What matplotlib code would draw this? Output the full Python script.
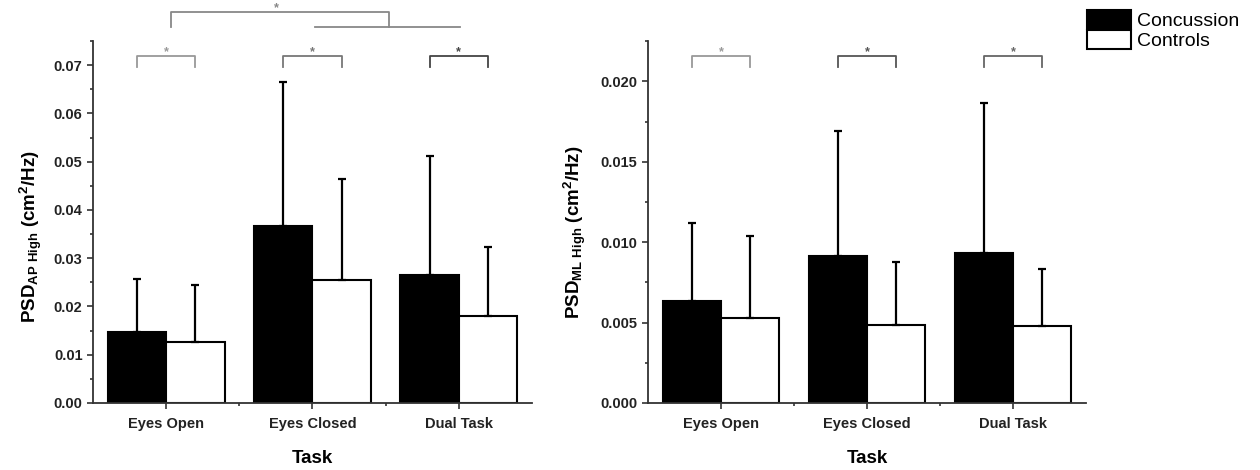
import matplotlib
matplotlib.use("Agg")
import matplotlib.pyplot as plt
from matplotlib.ticker import MultipleLocator, FormatStrFormatter
from matplotlib.patches import Patch
import numpy as np

plt.rcParams["font.family"] = ["Liberation Sans", "DejaVu Sans"]
plt.rcParams["mathtext.fontset"] = "custom"
plt.rcParams["mathtext.rm"] = "Liberation Sans"
plt.rcParams["mathtext.bf"] = "Liberation Sans:bold"

tasks = ["Eyes Open", "Eyes Closed", "Dual Task"]
groups = ["Concussion", "Controls"]

# AP high-frequency PSD (mean, SD)
ap_conc = [0.0147, 0.0366, 0.0265]
ap_conc_sd = [0.0110, 0.0299, 0.0246]
ap_ctrl = [0.0126, 0.0255, 0.0181]
ap_ctrl_sd = [0.0119, 0.0210, 0.0142]

# ML high-frequency PSD (mean, SD)
ml_conc = [0.00634, 0.00915, 0.00935]
ml_conc_sd = [0.00484, 0.00779, 0.00933]
ml_ctrl = [0.00526, 0.00482, 0.00478]
ml_ctrl_sd = [0.00513, 0.00395, 0.00355]

fig = plt.figure(figsize=(12.6, 4.7), dpi=100)
ax1 = fig.add_axes([0.0738, 0.1426, 0.3484, 0.770])
ax2 = fig.add_axes([0.5143, 0.1426, 0.3476, 0.770])

axis_col = "#333333"


def panel(ax, conc, conc_sd, ctrl, ctrl_sd, ymax, major, fmt):
    x = np.arange(len(tasks)) + 0.5
    w = 0.4
    ekw = dict(ecolor="black", elinewidth=1.6, capsize=3, capthick=1.6)
    ax.bar(x - w / 2, conc, w, color="black", edgecolor="black", lw=1.5,
           yerr=[np.zeros(3), conc_sd], error_kw=ekw)
    ax.bar(x + w / 2, ctrl, w, color="white", edgecolor="black", lw=1.5,
           yerr=[np.zeros(3), ctrl_sd], error_kw=ekw)
    ax.set_xlim(0, 3)
    ax.set_ylim(0, ymax)
    ax.set_xticks(x)
    ax.set_xticklabels(tasks, fontsize=10.5, fontweight="bold")
    ax.set_xticks([1, 2], minor=True)
    ax.yaxis.set_major_locator(MultipleLocator(major))
    ax.yaxis.set_minor_locator(MultipleLocator(major / 2))
    ax.yaxis.set_major_formatter(FormatStrFormatter(fmt))
    for lab in ax.get_yticklabels():
        lab.set_fontweight("bold")
        lab.set_fontsize(10.5)
    ax.tick_params(direction="out", length=4, width=1.2, colors=axis_col, labelcolor="#222222")
    ax.tick_params(axis="x", pad=6)
    ax.tick_params(which="minor", direction="out", length=2.5, width=1.2, colors=axis_col)
    for s in ["top", "right"]:
        ax.spines[s].set_visible(False)
    for s in ["left", "bottom"]:
        ax.spines[s].set_linewidth(1.3)
        ax.spines[s].set_color(axis_col)
    ax.set_xlabel("Task", fontsize=13.5, fontweight="bold", labelpad=14)


def brackets(ax, y, h, cols):
    for i, c in enumerate(cols):
        x0, x1 = i + 0.3, i + 0.7
        ax.plot([x0, x0, x1, x1], [y - h, y, y, y - h], color=c, lw=1.3, clip_on=False)
        ax.text((x0 + x1) / 2, y, "*", ha="center", va="baseline", fontsize=9,
                fontweight="bold", color=c)


panel(ax1, ap_conc, ap_conc_sd, ap_ctrl, ap_ctrl_sd, 0.075, 0.01, "%.2f")
panel(ax2, ml_conc, ml_conc_sd, ml_ctrl, ml_ctrl_sd, 0.0225, 0.005, "%.3f")

brackets(ax1, 0.0720, 0.0023, ["#999999", "#777777", "#444444"])
brackets(ax2, 0.0216, 0.00069, ["#999999", "#555555", "#666666"])

# task main effect: Eyes Open vs Eyes Closed / Dual Task
gcol = "#888888"
ax1.plot([0.53, 0.53, 2.02, 2.02], [0.0780, 0.0811, 0.0811, 0.0780], color=gcol, lw=1.3, clip_on=False)
ax1.plot([1.52, 2.51], [0.0780, 0.0780], color=gcol, lw=1.3, clip_on=False)
ax1.text(1.25, 0.0811, "*", ha="center", va="baseline", fontsize=9, fontweight="bold", color=gcol)

fig.text(0.024, 0.496, r"$\mathbf{PSD}_{\mathbf{AP\ High}}$ $\mathbf{(cm^2/Hz)}$",
         rotation=90, ha="center", va="center", fontsize=13.5)
fig.text(0.456, 0.506, r"$\mathbf{PSD}_{\mathbf{ML\ High}}$ $\mathbf{(cm^2/Hz)}$",
         rotation=90, ha="center", va="center", fontsize=13.5)

handles = [Patch(facecolor="black", edgecolor="black", lw=1.5),
           Patch(facecolor="white", edgecolor="black", lw=1.5)]
fig.legend(handles, groups, loc="upper left", bbox_to_anchor=(1087 / 1260, 1 - 10 / 470),
           frameon=False, fontsize=14, handlelength=2.25, handleheight=1.1,
           labelspacing=0.0, handletextpad=0.3, borderpad=0, borderaxespad=0)

fig.savefig("out.png", dpi=100)
